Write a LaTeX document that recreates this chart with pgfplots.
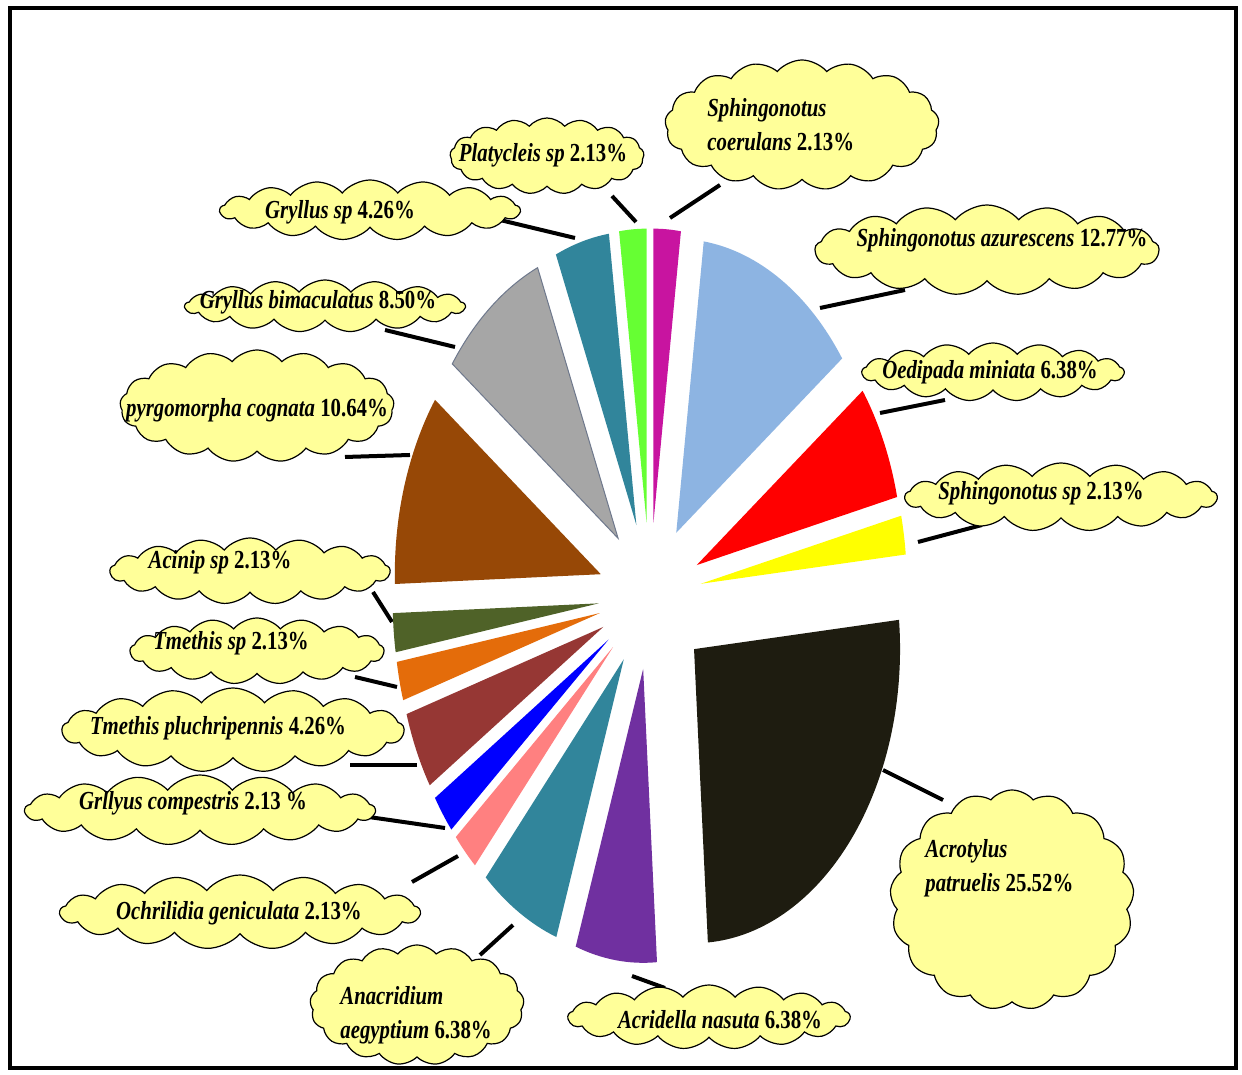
\documentclass[border=0pt]{standalone}
\usepackage{pgfplots}
\pgfplotsset{compat=1.18}
\usepackage{pgfplotstable}
\usepackage{fontspec}
\setmainfont{Liberation Serif}[FakeStretch=0.8]
\usetikzlibrary{shapes.symbols}
\definecolor{cMag}{RGB}{200,20,160}
\definecolor{cLBlue}{RGB}{141,180,226}
\definecolor{cRed}{RGB}{255,0,0}
\definecolor{cYel}{RGB}{255,255,0}
\definecolor{cBlack}{RGB}{30,28,16}
\definecolor{cPurp}{RGB}{112,48,160}
\definecolor{cTeal}{RGB}{49,133,155}
\definecolor{cSalm}{RGB}{255,128,128}
\definecolor{cBlue}{RGB}{0,0,255}
\definecolor{cBrRed}{RGB}{150,55,52}
\definecolor{cOrg}{RGB}{228,108,10}
\definecolor{cOlive}{RGB}{79,98,40}
\definecolor{cBrown}{RGB}{151,72,6}
\definecolor{cGray}{RGB}{166,166,166}
\definecolor{cGrayD}{RGB}{110,120,140}
\definecolor{cGreen}{RGB}{102,255,51}
\definecolor{cloudY}{RGB}{255,255,153}
\pgfplotstableread{
value col ex dr
2.13 cMag 0.25 none
12.77 cLBlue 0.25 none
6.38 cRed 0.25 none
2.13 cYel 0.25 none
25.52 cBlack 0.28 none
6.38 cPurp 0.25 none
6.38 cTeal 0.25 none
2.13 cSalm 0.25 none
2.13 cBlue 0.25 none
4.26 cBrRed 0.25 none
2.13 cOrg 0.25 none
2.13 cOlive 0.25 none
10.64 cBrown 0.25 none
8.50 cGray 0.25 cGrayD
4.26 cTeal 0.25 none
2.13 cGreen 0.25 none
}\piedata
\tikzset{
  cl/.style n args={2}{cloud, cloud puffs=17, cloud puff arc=100, cloud ignores aspect,
     minimum width=#1, minimum height=#2, fill=cloudY, draw=black, line width=0.6pt, inner sep=0pt},
  lbl/.style={font=\fontsize{13}{17}\selectfont\bfseries, inner sep=0pt},
  lead/.style={line width=2pt, black}
}
\begin{document}
\begin{tikzpicture}
\begin{axis}[x=0.5pt, y=0.5pt, xmin=0, xmax=1242, ymin=0, ymax=1075, hide axis, clip=false]
\fill[white] (0,0) rectangle (1242,1075);
% leader lines
\draw[lead] (670,857)--(720,890);
\draw[lead] (636,853)--(612,879);
\draw[lead] (575,837)--(500,855);
\draw[lead] (455,728)--(385,745);
\draw[lead] (410,620)--(345,618);
\draw[lead] (392,453)--(373,483);
\draw[lead] (397,388)--(355,398);
\draw[lead] (417,310)--(350,310);
\draw[lead] (445,247)--(355,260);
\draw[lead] (458,219)--(412,193);
\draw[lead] (513,150)--(480,120);
\draw[lead] (632,99)--(665,87);
\draw[lead] (883,305)--(943,275);
\draw[lead] (820,767)--(905,785);
\draw[lead] (880,662)--(945,675);
\draw[lead] (918,533)--(982,550);
% pie slices
\def\cx{650}\def\cy{479}\def\rx{206}\def\ry{294}
\def\cum{0}
\pgfplotsforeachungrouped \i in {0,...,15}{%
  \pgfplotstablegetelem{\i}{value}\of\piedata \let\sval\pgfplotsretval
  \pgfplotstablegetelem{\i}{col}\of\piedata \let\scol\pgfplotsretval
  \pgfplotstablegetelem{\i}{ex}\of\piedata \let\sex\pgfplotsretval
  \pgfplotstablegetelem{\i}{dr}\of\piedata \let\sdr\pgfplotsretval
  \pgfmathsetmacro\aone{90-3.6*\cum}%
  \pgfmathsetmacro\atwo{90-3.6*(\cum+\sval)}%
  \pgfmathsetmacro\am{(\aone+\atwo)/2}%
  \pgfmathsetmacro\px{\cx+\sex*\rx*cos(\am)}%
  \pgfmathsetmacro\py{\cy+\sex*\ry*sin(\am)}%
  \pgfmathsetmacro\qx{\px+\rx*cos(\aone)}%
  \pgfmathsetmacro\qy{\py+\ry*sin(\aone)}%
  \edef\temp{\noexpand\filldraw[fill=\scol, draw=\sdr, line width=0.5pt] (\px,\py) -- (\qx,\qy) arc[start angle=\aone, end angle=\atwo, x radius=103pt, y radius=147pt] -- cycle;}%
  \temp
  \pgfmathsetmacro\cum{\cum+\sval}%
}
% clouds
\node[cl={137pt}{65pt}] at (802,950) {};
\node[cl={97pt}{38pt}] at (547,919) {};
\node[cl={150pt}{30pt}] at (370,865) {};
\node[cl={140pt}{26pt}] at (325,769) {};
\node[cl={137pt}{56pt}] at (257,669) {};
\node[cl={140pt}{33pt}] at (250,504) {};
\node[cl={127pt}{33pt}] at (257,424) {};
\node[cl={171pt}{42pt}] at (233,345) {};
\node[cl={175pt}{35pt}] at (200,265) {};
\node[cl={180pt}{37pt}] at (240,163) {};
\node[cl={107pt}{60pt}] at (417,70) {};
\node[cl={141pt}{32pt}] at (709,58) {};
\node[cl={122pt}{110pt}] at (1012,175) {};
\node[cl={172pt}{45pt}] at (987,825) {};
\node[cl={131pt}{29pt}] at (993,703) {};
\node[cl={156pt}{34pt}] at (1061,578) {};
% labels
\node[lbl, anchor=west, align=left] at (707,950) {\textit{Sphingonotus}\\\textit{coerulans} 2.13\%};
\node[lbl] at (543,920) {\textit{Platycleis sp} 2.13\%};
\node[lbl] at (340,863) {\textit{Gryllus sp} 4.26\%};
\node[lbl] at (318,773) {\textit{Gryllus bimaculatus} 8.50\%};
\node[lbl] at (257,665) {\textit{pyrgomorpha cognata} 10.64\%};
\node[lbl] at (220,513) {\textit{Acinip sp} 2.13\%};
\node[lbl] at (231,432) {\textit{Tmethis sp} 2.13\%};
\node[lbl] at (218,347) {\textit{Tmethis pluchripennis} 4.26\%};
\node[lbl] at (193,272) {\textit{Grllyus compestris} 2.13 \%};
\node[lbl] at (239,162) {\textit{Ochrilidia geniculata} 2.13\%};
\node[lbl, anchor=west, align=left] at (340,60) {\textit{Anacridium}\\\textit{aegyptium} 6.38\%};
\node[lbl] at (720,55) {\textit{Acridella nasuta} 6.38\%};
\node[lbl, anchor=west, align=left] at (925,207) {\textit{Acrotylus}\\\textit{patruelis} 25.52\%};
\node[lbl] at (1002,835) {\textit{Sphingonotus azurescens} 12.77\%};
\node[lbl] at (990,703) {\textit{Oedipada miniata} 6.38\%};
\node[lbl] at (1041,582) {\textit{Sphingonotus sp} 2.13\%};
% frame
\draw[line width=2.3pt, black] (10,7) rectangle (1236,1067);
\end{axis}
\end{tikzpicture}
\end{document}
